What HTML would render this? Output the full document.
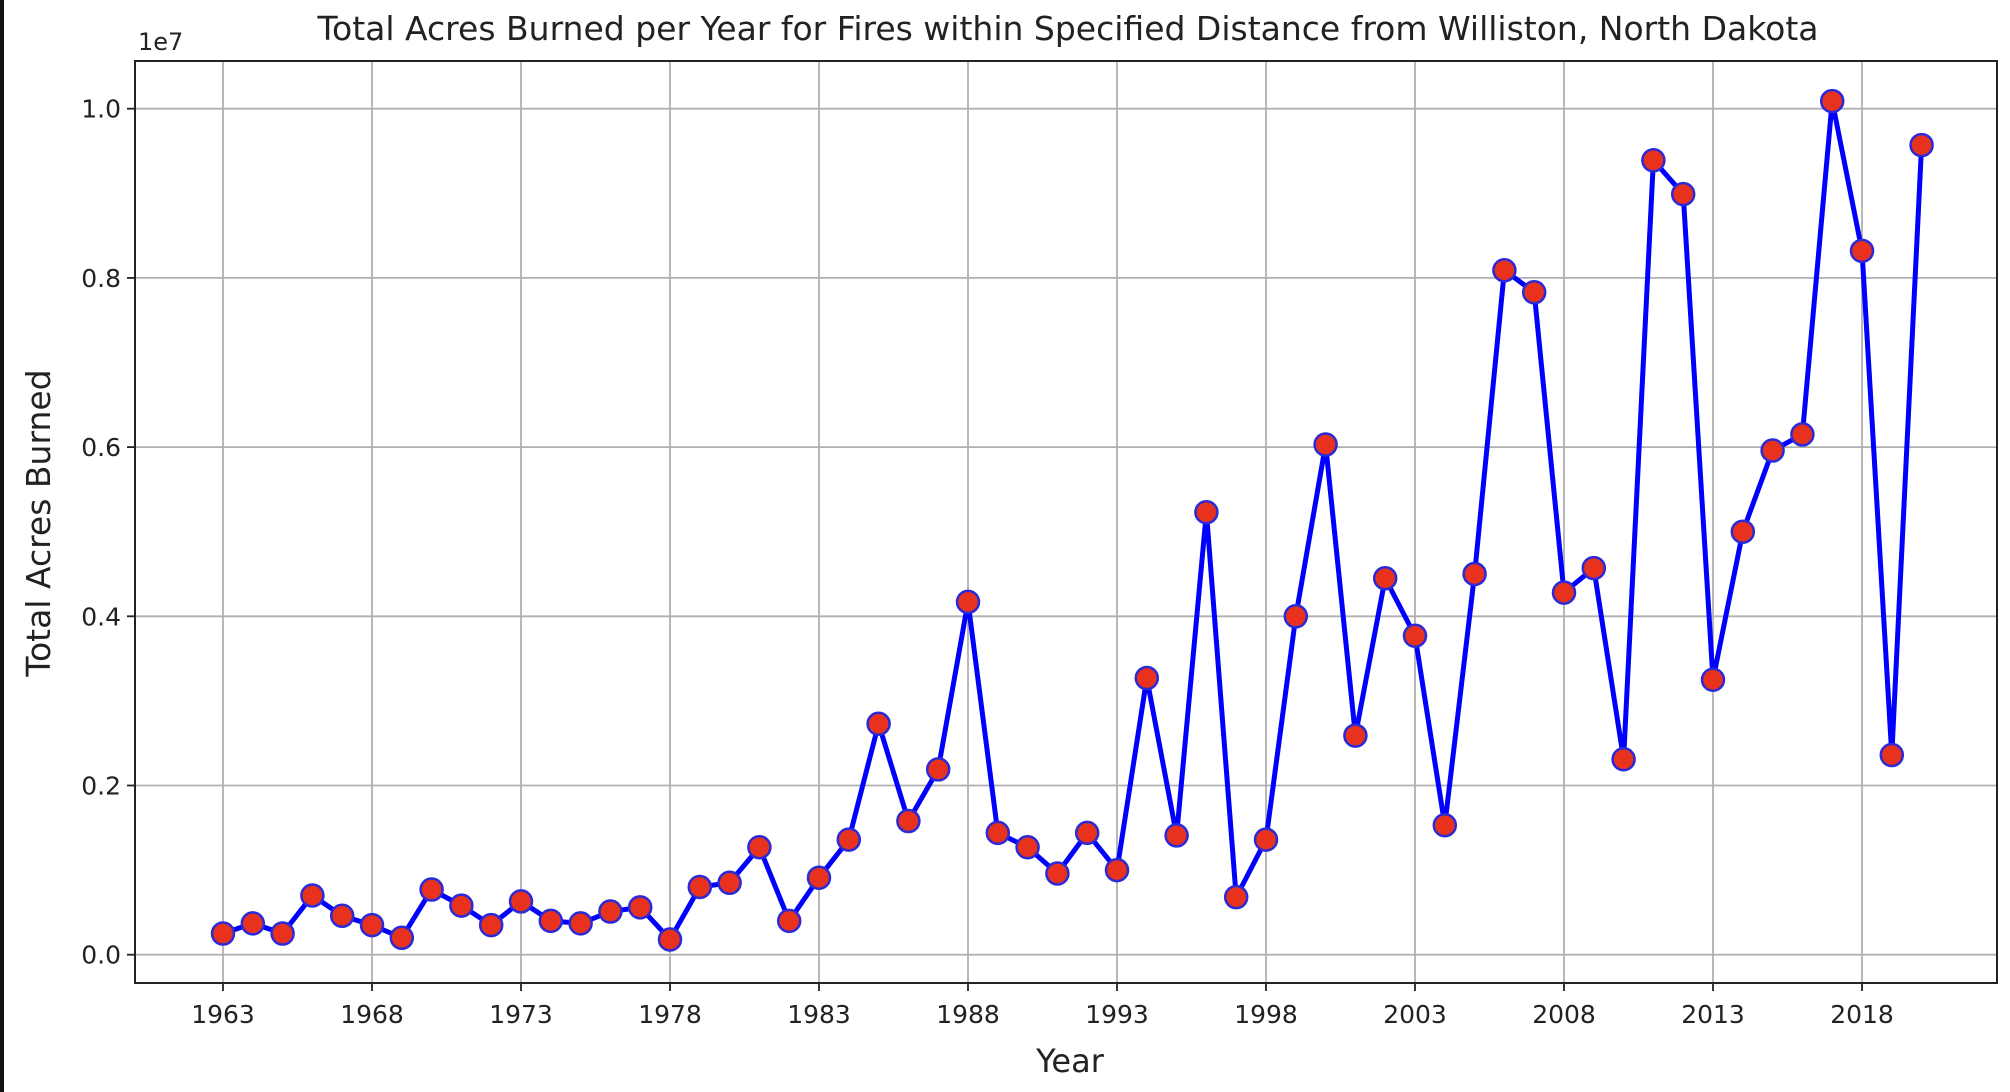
<!DOCTYPE html>
<html><head><meta charset="utf-8"><style>
html,body{margin:0;padding:0;background:#fff;}
svg{display:block;font-family:"DejaVu Sans","Liberation Sans",sans-serif;}
</style></head><body>
<svg id="chart" width="2010" height="1092">
<rect x="0" y="0" width="4" height="1092" fill="#111"/>
<text x="1068" y="40" font-size="33" text-anchor="middle" fill="#222">Total Acres Burned per Year for Fires within Specified Distance from Williston, North Dakota</text>
<text x="138" y="50" font-size="24" fill="#222">1e7</text>
<text x="1070" y="1072" font-size="32" text-anchor="middle" fill="#222">Year</text>
<text transform="translate(50,523) rotate(-90)" font-size="33" text-anchor="middle" fill="#222">Total Acres Burned</text>
<g id="grid"></g><g id="axes"></g><g id="series"></g>
</svg>
<script>
const years = [1963,1964,1965,1966,1967,1968,1969,1970,1971,1972,1973,1974,1975,1976,1977,1978,1979,1980,1981,1982,1983,1984,1985,1986,1987,1988,1989,1990,1991,1992,1993,1994,1995,1996,1997,1998,1999,2000,2001,2002,2003,2004,2005,2006,2007,2008,2009,2010,2011,2012,2013,2014,2015,2016,2017,2018,2019,2020];
const acres = [0.25,0.37,0.25,0.70,0.46,0.35,0.20,0.77,0.58,0.35,0.63,0.40,0.37,0.51,0.56,0.18,0.80,0.85,1.27,0.40,0.91,1.36,2.73,1.58,2.19,4.17,1.44,1.27,0.96,1.44,1.00,3.27,1.41,5.23,0.68,1.36,4.00,6.03,2.59,4.45,3.77,1.53,4.50,8.09,7.83,4.28,4.57,2.31,9.39,8.99,3.25,5.00,5.96,6.15,10.09,8.32,2.36,9.57].map(v=>v*1e6);
const xTicks = [1963,1968,1973,1978,1983,1988,1993,1998,2003,2008,2013,2018];
const yTicks = [0,0.2e7,0.4e7,0.6e7,0.8e7,1.0e7];
const yTickLabels = ["0.0","0.2","0.4","0.6","0.8","1.0"];

const L=135,R=1997,T=61,B=983;
const xs = y => 223 + (y-1963)*29.8;
const ys = v => 954.7 - v/1e7*846;
const NS="http://www.w3.org/2000/svg";
function mk(tag,attrs,parent){const e=document.createElementNS(NS,tag);for(const k in attrs)e.setAttribute(k,attrs[k]);parent.appendChild(e);return e;}
const grid=document.getElementById('grid'),axes=document.getElementById('axes'),series=document.getElementById('series');

xTicks.forEach((t,i)=>{
  const x=xs(t);
  const g=mk('line',{x1:x,x2:x,y1:T,y2:B,stroke:'#b0b0b0','stroke-width':1.8},grid);
  
  
  const tk=mk('line',{x1:x,x2:x,y1:B,y2:B+8,stroke:'#222','stroke-width':1.8},axes);
  
  
  const tx=mk('text',{x:x,y:B+40,'font-size':25,'text-anchor':'middle',fill:'#222'},axes);
  tx.textContent=t;
  
  
});
yTicks.forEach((t,i)=>{
  const y=ys(t);
  const g=mk('line',{x1:L,x2:R,y1:y,y2:y,stroke:'#b0b0b0','stroke-width':1.8},grid);
  
  
  const tk=mk('line',{x1:L-8,x2:L,y1:y,y2:y,stroke:'#222','stroke-width':1.8},axes);
  
  
  const tx=mk('text',{x:L-14,y:y+9,'font-size':25,'text-anchor':'end',fill:'#222'},axes);
  tx.textContent=yTickLabels[i];
  
  
});
const frame=mk('rect',{x:L,y:T,width:R-L,height:B-T,fill:'none',stroke:'#222','stroke-width':2},axes);



const pts=years.map((y,i)=>xs(y)+','+ys(acres[i])).join(' ');
const line=mk('polyline',{points:pts,fill:'none',stroke:'#0000ff','stroke-width':5,'stroke-linejoin':'round'},series);


years.forEach((y,i)=>{
  const c=mk('circle',{cx:xs(y),cy:ys(acres[i]),r:11,fill:'#e8321e',stroke:'#2a2ad8','stroke-width':2.5},series);
  
  
});
</script>
</body></html>
